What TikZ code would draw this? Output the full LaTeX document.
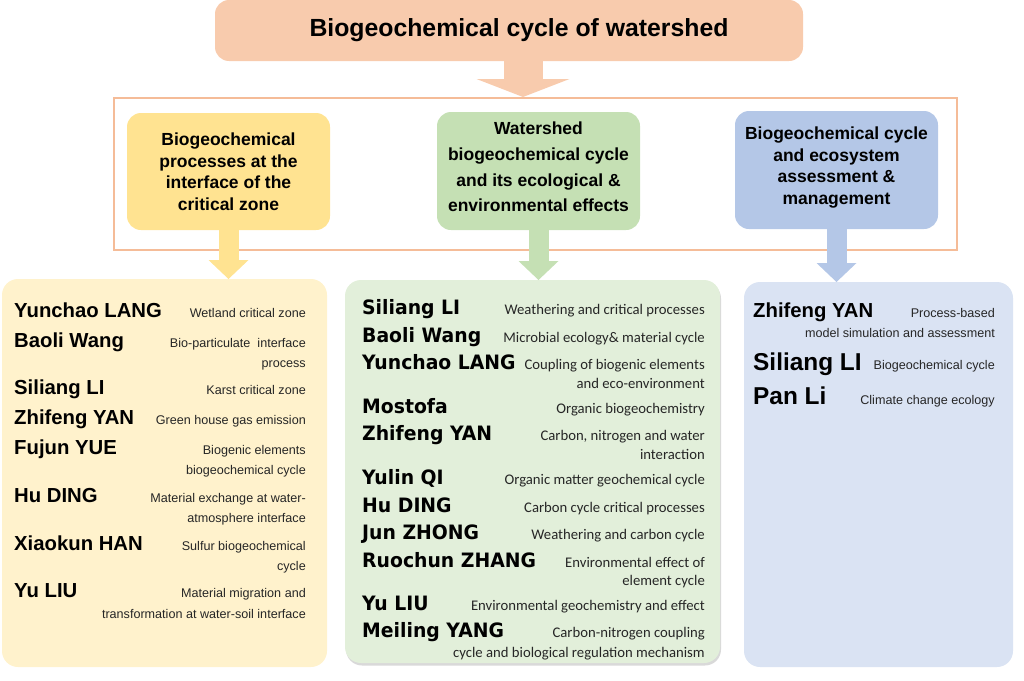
\documentclass[tikz,border=0pt]{standalone}
\usepackage{fontspec}
\setmainfont{Liberation Sans}
\newfontfamily\calf{Carlito}
\newfontfamily\tahf[FakeStretch=0.95]{DejaVu Sans}
\usetikzlibrary{arrows.meta,shadows}
\definecolor{peach}{HTML}{F8CBAD}
\definecolor{peachline}{HTML}{F5BC98}
\definecolor{goldhd}{HTML}{FFE391}
\definecolor{goldbg}{HTML}{FFF2CC}
\definecolor{greenhd}{HTML}{C5E0B4}
\definecolor{greenbg}{HTML}{E2EFDA}
\definecolor{bluehd}{HTML}{B4C7E7}
\definecolor{bluebg}{HTML}{DAE3F3}
\definecolor{dsink}{HTML}{262626}

\begin{document}
\begin{tikzpicture}[x=1pt,y=-1pt,
  box/.style={rounded corners=14pt,inner sep=0pt,outer sep=0pt},
  hdr/.style={box,minimum width=203pt},
  hdrtxt/.style={align=center,inner sep=0pt,font=\bfseries\fontsize{17.5}{21.5}\selectfont},
  blk/.style={line width=20pt,-{Triangle[length=19pt,width=40pt,line width=0pt]}},
  nm/.style={anchor=base west,inner sep=0pt,font=\bfseries\fontsize{20.3}{22}\selectfont},
  ds/.style={anchor=base east,inner sep=0pt,text=dsink,font=\fontsize{12.6}{14}\selectfont},
  gnm/.style={nm,font=\tahf\bfseries\fontsize{19.8}{22}\selectfont},
  gds/.style={ds,font=\calf\fontsize{14.7}{16}\selectfont}]
\useasboundingbox (0,0) rectangle (1024,680);

% top title and frame
\node[box,fill=peach,minimum width=588pt,minimum height=61pt] (title) at (509,30.5) {};
\node[inner sep=0pt,font=\bfseries\fontsize{24.8}{28}\selectfont] (ttext) at ([xshift=10pt]title.center) {Biogeochemical cycle of watershed};
\node[draw=peachline,line width=2pt,minimum width=843pt,minimum height=152pt,inner sep=0pt] (frame) at (535.5,174) {};
\coordinate (ax) at (523,0);
\draw[blk,peach,line width=39pt,-{Triangle[length=18pt,width=93pt,line width=0pt]}] (title.south -| ax) -- (frame.north -| ax);

% three topics
\node[hdr,fill=goldhd,minimum height=117pt] (hY) at (228.5,171.5) {};
\node[hdr,fill=greenhd,minimum height=118pt] (hG) at (538.5,171) {};
\node[hdr,fill=bluehd,minimum height=118pt] (hB) at (836.5,170) {};
\node[hdrtxt] (tY) at (hY.center) {Biogeochemical\\processes at the\\interface of the\\critical zone};
\node[hdrtxt,font=\bfseries\fontsize{17.5}{25.7}\selectfont] (tG) at ([yshift=4pt]hG.center) {Watershed\\biogeochemical cycle\\and its ecological \&\\environmental effects};
\node[hdrtxt] (tB) at ([yshift=2.5pt]hB.center) {Biogeochemical cycle\\and ecosystem\\assessment \&\\management};

% member panels
\node[box,rounded corners=16pt,fill=goldbg,minimum width=325pt,minimum height=388pt] (bY) at (164.5,473) {};
\node[box,rounded corners=16pt,fill=greenbg,minimum width=375pt,minimum height=383pt,drop shadow={opacity=0.3,shadow xshift=1pt,shadow yshift=-2.5pt}] (bG) at (532.5,471.5) {};
\node[box,rounded corners=16pt,fill=bluebg,minimum width=269pt,minimum height=385pt] (bB) at (878.5,474.5) {};

\draw[blk,goldhd] (hY.south) -- (hY.south |- bY.north);
\draw[blk,greenhd] (hG.south) -- (hG.south |- bG.north);
\draw[blk,bluehd] (hB.south) -- (hB.south |- bB.north);

% yellow panel
\foreach \nm/\yy [count=\i] in {Yunchao LANG/317, Baoli Wang/347, Siliang LI/394, Zhifeng YAN/424, Fujun YUE/454, Hu DING/502, Xiaokun HAN/550, Yu LIU/597}
  \node[nm] (yn\i) at (14,\yy) {\nm};
\foreach \ds/\yy [count=\i] in {Wetland critical zone/317, Bio-particulate\ \ interface/347, process/367, Karst critical zone/394, Green house gas emission/424, Biogenic elements/454, biogeochemical cycle/474, Material exchange at water-/502, atmosphere interface/522, Sulfur biogeochemical/550, cycle/570, Material migration and/597, transformation at water-soil interface/618}
  \node[ds] (yd\i) at (306,\yy) {\ds};

% green panel
\foreach \nm/\yy [count=\i] in {Siliang LI/314, Baoli Wang/342, Yunchao LANG/369, Mostofa/413, Zhifeng YAN/440, Yulin QI/484, Hu DING/512, Jun ZHONG/539, Ruochun ZHANG/567, Yu LIU/610, Meiling YANG/637}
  \node[gnm] (gn\i) at (362,\yy) {\nm};
\foreach \ds/\yy [count=\i] in {Weathering and critical processes/314, Microbial ecology\& material cycle/342, Coupling of biogenic elements/369, and eco-environment/388, Organic biogeochemistry/413, {Carbon, nitrogen and water}/440, interaction/459, Organic matter geochemical cycle/484, Carbon cycle critical processes/512, Weathering and carbon cycle/539, Environmental effect of/567, element cycle/585, Environmental geochemistry and effect/610, Carbon-nitrogen coupling/637, cycle and biological regulation mechanism/657}
  \node[gds] (gd\i) at (705,\yy) {\ds};

% blue panel
\foreach \nm/\yy/\fs [count=\i] in {Zhifeng YAN/317/20.3, Siliang LI/370/24.4, Pan Li/404/24.4}
  \node[nm,font=\bfseries\fontsize{\fs}{\fs}\selectfont] (bn\i) at (753,\yy) {\nm};
\foreach \ds/\yy [count=\i] in {Process-based/317, model simulation and assessment/337, Biogeochemical cycle/369, Climate change ecology/404}
  \node[ds] (bd\i) at (995,\yy) {\ds};
\end{tikzpicture}
\end{document}
